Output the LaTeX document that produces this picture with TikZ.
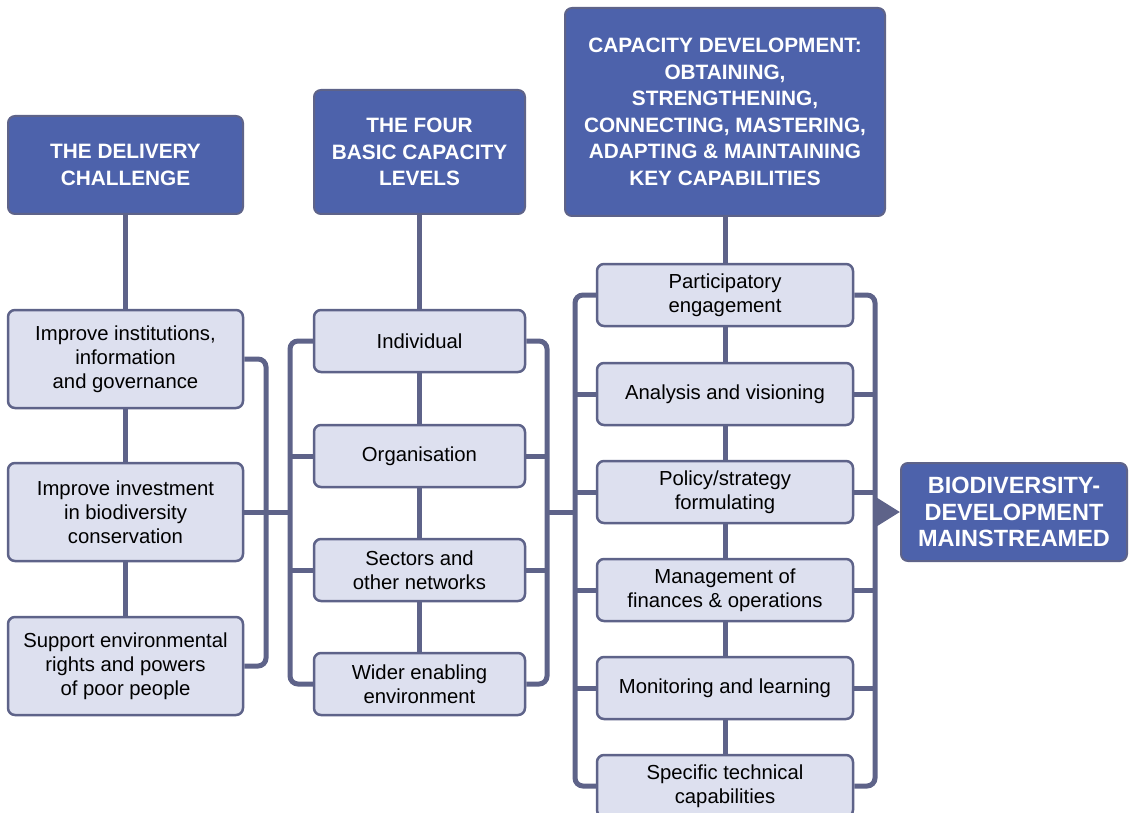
\documentclass[tikz,border=0pt]{standalone}
\usepackage{fontspec}
\setmainfont{Liberation Sans}
\usetikzlibrary{arrows.meta}

\definecolor{hdrblue}{HTML}{4D62AB}
\definecolor{boxfill}{HTML}{DDE0EF}
\definecolor{linegray}{HTML}{5E6389}

\tikzset{
  header/.style={draw=linegray, fill=hdrblue, line width=2pt, rounded corners=7pt,
    text=white, font=\fontsize{20.8}{26.5}\selectfont\bfseries, align=center, inner sep=0pt},
  level/.style={draw=linegray, fill=boxfill, line width=2.5pt, rounded corners=7pt,
    font=\fontsize{20.3}{24}\selectfont, align=center, inner sep=0pt},
  link/.style={draw=linegray, line width=5pt},
  bracket/.style={link, rounded corners=8pt},
}

\begin{document}
\begin{tikzpicture}[x=1pt,y=-1pt]
	    \useasboundingbox (0,0) rectangle (1132,813);
	    \clip (0,0) rectangle (1132,813);
	    \fill[white] (0,0) rectangle (1132,813);

	    % first column
	    \node[header, minimum width=235, minimum height=98] (deliv) at (125.5,165) {THE DELIVERY\\CHALLENGE};
	    \node[level, minimum width=235, minimum height=98] (inst) at (125.5,359) {Improve institutions,\\information\\and governance};
	    \node[level, minimum width=235, minimum height=98] (invest) at (125.5,512) {Improve investment\\in biodiversity\\conservation};
	    \node[level, minimum width=235, minimum height=98] (rights) at (125.5,666) {Support environmental\\rights and powers\\of poor people};

	    % second column
	    \node[header, minimum width=211, minimum height=124] (levels) at (419.5,152) {THE FOUR\\BASIC CAPACITY\\LEVELS};
	    \node[level, minimum width=211, minimum height=62] (indiv) at (419.5,341) {Individual};
	    \node[level, minimum width=211, minimum height=62] (org) at (419.5,456) {Organisation};
	    \node[level, minimum width=211, minimum height=62] (sect) at (419.5,570) {Sectors and\\other networks};
	    \node[level, minimum width=211, minimum height=62] (wider) at (419.5,684) {Wider enabling\\environment};

	    % third column
	    \node[header, minimum width=320, minimum height=208] (capdev) at (725,112) {CAPACITY DEVELOPMENT:\\OBTAINING,\\STRENGTHENING,\\CONNECTING, MASTERING,\\ADAPTING \& MAINTAINING\\KEY CAPABILITIES};
	    \node[level, minimum width=256, minimum height=62] (partic) at (725,295) {Participatory\\engagement};
	    \node[level, minimum width=256, minimum height=62] (analysis) at (725,394) {Analysis and visioning};
	    \node[level, minimum width=256, minimum height=62] (policy) at (725,492) {Policy/strategy\\formulating};
	    \node[level, minimum width=256, minimum height=62] (finance) at (725,590) {Management of\\finances \& operations};
	    \node[level, minimum width=256, minimum height=62] (monitor) at (725,688) {Monitoring and learning};
	    \node[level, minimum width=256, minimum height=62] (technical) at (725,786) {Specific technical\\capabilities};

	    \node[header, font=\fontsize{23.5}{26.5}\selectfont\bfseries, minimum width=226, minimum height=98] (goal) at (1014,512) {BIODIVERSITY-\\DEVELOPMENT\\MAINSTREAMED};

	    % joints
	    \coordinate (j1) at (266,512);
	    \coordinate (j2l) at (290,512);
	    \coordinate (j2r) at (547,512);
	    \coordinate (j3l) at (575,512);
	    \coordinate (j3r) at (875,512);

	    % spines
	    \foreach \a/\b in {deliv/inst, inst/invest, invest/rights, levels/indiv, indiv/org, org/sect, sect/wider, capdev/partic, partic/analysis, analysis/policy, policy/finance, finance/monitor, monitor/technical}
	      \draw[link] (\a.south) -- (\b.north);

	    % brackets
	    \draw[bracket] (inst.east) -| (j1 |- rights) -- (rights.east);
	    \draw[link] (invest.east) -- (j2l);
	    \draw[bracket] (indiv.west) -| (j2l |- wider) -- (wider.west);
	    \draw[bracket] (indiv.east) -| (j2r |- wider) -- (wider.east);
	    \foreach \n in {org, sect} {
	      \draw[link] (\n.west) -- (\n.west -| j2l);
	      \draw[link] (\n.east) -- (\n.east -| j2r);
	    }
	    \draw[link] (j2r) -- (j3l);
	    \draw[bracket] (partic.west) -| (j3l |- technical) -- (technical.west);
	    \draw[bracket] (partic.east) -| (j3r |- technical) -- (technical.east);
	    \foreach \n in {analysis, policy, finance, monitor} {
	      \draw[link] (\n.west) -- (\n.west -| j3l);
	      \draw[link] (\n.east) -- (\n.east -| j3r);
	    }
	    \draw[link, -{Triangle[length=23pt,width=27pt]}] (j3r) -- (goal.west);

	\end{tikzpicture}
\end{document}
